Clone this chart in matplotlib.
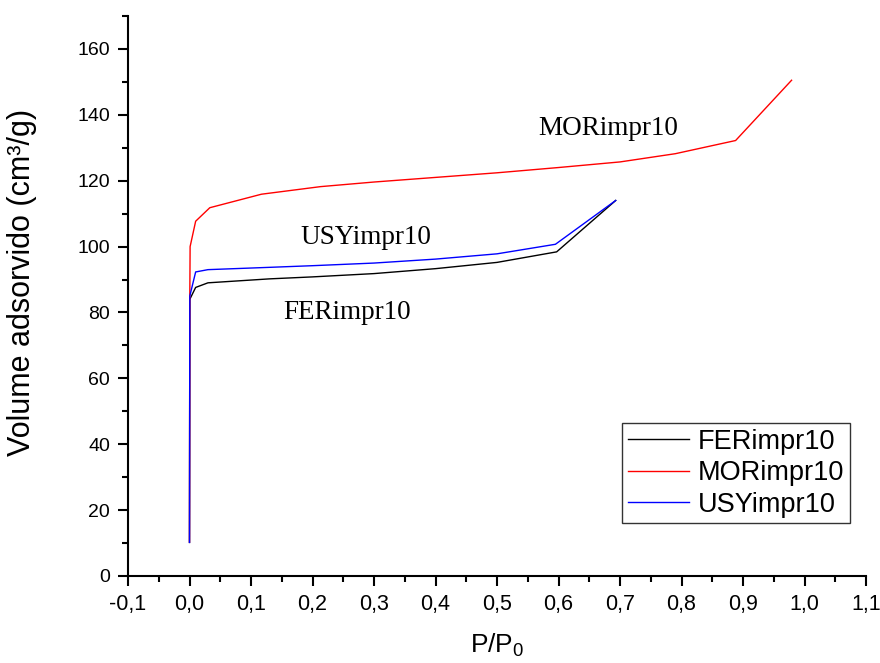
import matplotlib
matplotlib.use("Agg")
import matplotlib.pyplot as plt
from matplotlib.ticker import MultipleLocator, FuncFormatter

plt.rcParams['font.family'] = ['Liberation Sans', 'DejaVu Sans']
plt.rcParams['mathtext.fontset'] = 'custom'
plt.rcParams['mathtext.rm'] = 'Liberation Sans'
plt.rcParams['mathtext.it'] = 'Liberation Sans'

# isotermas de adsorcao de N2 (P/P0, volume adsorvido)
fer_x = [0, 0.0005, 0.01, 0.03, 0.13, 0.2, 0.3, 0.4, 0.5, 0.597, 0.693]
fer_y = [10.2, 84, 87.6, 89.0, 90.2, 90.8, 91.8, 93.3, 95.2, 98.4, 114.0]

mor_x = [0, 0.0005, 0.001, 0.01, 0.033, 0.117, 0.213, 0.3, 0.4, 0.5, 0.6, 0.7, 0.79, 0.888, 0.979]
mor_y = [10.3, 85, 100, 107.7, 111.8, 115.9, 118.2, 119.6, 121.0, 122.4, 124.0, 125.7, 128.2, 132.2, 150.5]

usy_x = [0, 0.0005, 0.01, 0.03, 0.13, 0.2, 0.3, 0.4, 0.5, 0.595, 0.693]
usy_y = [10.2, 85, 92.3, 93.0, 93.7, 94.2, 95.0, 96.2, 97.8, 100.7, 114.0]

nomes = ["FERimpr10", "MORimpr10", "USYimpr10"]
cores = ["black", "red", "blue"]

W, H = 880, 663
fig = plt.figure(figsize=(W / 100, H / 100), dpi=100)
ax = fig.add_axes([128 / W, 87 / H, 738 / W, 560 / H])

for x, y, nome, cor in zip([fer_x, mor_x, usy_x], [fer_y, mor_y, usy_y], nomes, cores):
    ax.plot(x, y, color=cor, lw=1.0, label=nome)

ax.set_xlim(-0.1, 1.1)
ax.set_ylim(0, 170)

ax.spines['top'].set_visible(False)
ax.spines['right'].set_visible(False)
for s in ['left', 'bottom']:
    ax.spines[s].set_linewidth(1.5)

ax.xaxis.set_major_locator(MultipleLocator(0.1))
ax.xaxis.set_minor_locator(MultipleLocator(0.05))
ax.yaxis.set_major_locator(MultipleLocator(20))
ax.yaxis.set_minor_locator(MultipleLocator(10))
ax.xaxis.set_major_formatter(FuncFormatter(lambda v, p: f"{v:.1f}".replace(".", ",").replace("-0,0", "0,0")))
ax.tick_params(which='major', direction='out', length=7, width=1.5)
ax.tick_params(which='minor', direction='out', length=4, width=1.5)
ax.tick_params(axis='x', which='major', labelsize=15.5, pad=6)
ax.tick_params(axis='y', which='major', labelsize=14, pad=6)

fig.text(22 / W, 1 - 282 / H, "Volume adsorvido (cm³/g)", fontsize=22, rotation=90,
         ha='center', va='center')
fig.text(497 / W, 1 - 645 / H, "P/P$_0$", fontsize=19, ha='center', va='center')

serif = ['Liberation Serif', 'DejaVu Serif']
ax.text(0.681, 135.7, "MORimpr10", family=serif, fontsize=19.5, ha='center', va='center')
ax.text(0.286, 102.7, "USYimpr10", family=serif, fontsize=19.5, ha='center', va='center')
ax.text(0.256, 79.9, "FERimpr10", family=serif, fontsize=19.5, ha='center', va='center')

leg = ax.legend(loc='lower right', bbox_to_anchor=(850 / W, 1 - 523 / H), bbox_transform=fig.transFigure,
                fontsize=19.5, fancybox=False, framealpha=1, edgecolor='#333333',
                handlelength=2.25, handletextpad=0.35, borderpad=0.2, labelspacing=0.2,
                borderaxespad=0)
leg.get_frame().set_linewidth(1.0)

fig.savefig("out.png", dpi=100)
